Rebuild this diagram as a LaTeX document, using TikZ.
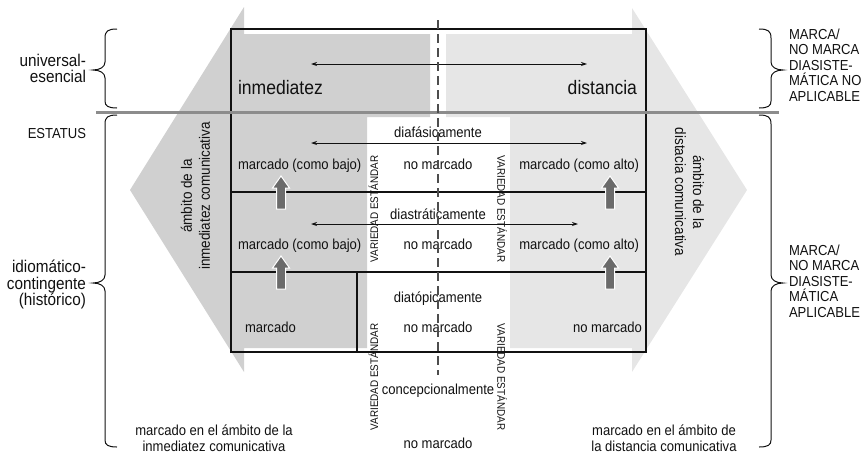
\documentclass[tikz,border=0pt]{standalone}
\usepackage{fontspec}
\setmainfont{Liberation Sans}[FakeStretch=0.9]
\usetikzlibrary{arrows.meta}
\definecolor{zoneA}{HTML}{D0D0D0}
\definecolor{zoneB}{HTML}{E6E6E6}
\definecolor{sepgray}{HTML}{8C8C8C}
\definecolor{dashgray}{HTML}{4D4D4D}
\definecolor{uparrow}{HTML}{6B6B6B}
\definecolor{txt}{HTML}{111111}
\begin{document}
\begin{tikzpicture}[x=1pt,y=-1pt,
  every node/.style={inner sep=0pt,outer sep=0pt,text=txt},
  big/.style={font=\fontsize{19.5}{22}\selectfont},
  cell/.style={font=\fontsize{14.5}{16}\selectfont},
  side/.style={font=\fontsize{17}{16.5}\selectfont, align=right},
  caps/.style={font=\fontsize{14.5}{15.5}\selectfont, align=left},
  amb/.style={font=\fontsize{15}{18}\selectfont, align=center},
  std/.style={font=\fontsize{11}{12}\selectfont},
  dbl/.style={{Stealth[length=6pt,width=4pt]}-{Stealth[length=6pt,width=4pt]}, line width=0.9pt, draw=txt},
  boxline/.style={line width=1.4pt, draw=txt},
  innerline/.style={line width=1.1pt, draw=txt},
  brace/.style={line width=1pt, draw=txt},
  blockup/.style={fill=uparrow, draw=white, line width=1pt}
]
\useasboundingbox (0,0) rectangle (866,455);

% zones
\fill[zoneA] (244,7) -- (130,190) -- (244,372) -- (244,348) -- (367,348) -- (367,117) -- (430,117) -- (430,34) -- (244,34) -- cycle;
\fill[zoneB] (632,8) -- (747,190) -- (632,372) -- (632,348) -- (510,348) -- (510,117) -- (446,117) -- (446,34) -- (632,34) -- cycle;

% box and inner lines
\draw[boxline] (231,29) rectangle (646,352);
\draw[innerline] (231,192) -- (646,192);
\draw[innerline] (231,272) -- (646,272);
\draw[innerline] (357,272) -- (357,352);

% separator
\draw[sepgray, line width=3pt] (96,112) -- (779,112);

% braces
\draw[brace] (117,29) .. controls (108,29) and (105,31) .. (105,38) -- (105,62) .. controls (105,67) and (100,70) .. (93,70) .. controls (100,70) and (105,73) .. (105,78) -- (105,101) .. controls (105,106) and (108,108) .. (117,108);
\draw[brace] (117,115) .. controls (108,115) and (105,117) .. (105,124) -- (105,275) .. controls (105,280) and (100,283) .. (93,283) .. controls (100,283) and (105,286) .. (105,291) -- (105,440) .. controls (105,445) and (108,447) .. (117,447);
\draw[brace] (759,29) .. controls (768,29) and (771,31) .. (771,38) -- (771,62) .. controls (771,67) and (776,70) .. (783,70) .. controls (776,70) and (771,73) .. (771,78) -- (771,101) .. controls (771,106) and (768,108) .. (759,108);
\draw[brace] (759,115) .. controls (768,115) and (771,117) .. (771,124) -- (771,275) .. controls (771,280) and (776,283) .. (783,283) .. controls (776,283) and (771,286) .. (771,291) -- (771,440) .. controls (771,445) and (768,447) .. (759,447);

% side texts
\node[side, anchor=east] (univ) at (86,68.5) {universal-\\esencial};
\node[font=\fontsize{14.5}{15}\selectfont, anchor=base east] (estatus) at (86,138) {ESTATUS};
\node[side, anchor=east] (idio) at (86,284.5) {idiomático-\\contingente\\(histórico)};
\node[caps, anchor=west] (marcaA) at (789,65) {MARCA/\\NO MARCA\\DIASISTE-\\MÁTICA NO\\APLICABLE};
\node[caps, anchor=west] (marcaB) at (789,281) {MARCA/\\NO MARCA\\DIASISTE-\\MÁTICA\\APLICABLE};

% top section
\node[big, anchor=base west] (inm) at (238,94) {inmediatez};
\node[big, anchor=base east] (dist) at (637,94) {distancia};
\coordinate (t1) at (311,64); \coordinate (t2) at (587,64);
\draw[dbl] (t1) -- (t2);

% row 1
\node[cell, anchor=base] (diaf) at (438,137) {diafásicamente};
\coordinate (f1) at (311,143); \coordinate (f2) at (587,143);
\draw[dbl] (f1) -- (f2);
\node[cell, anchor=base west] (r1a) at (238,169) {marcado (como bajo)};
\node[cell, anchor=base] (r1b) at (438,169) {no marcado};
\node[cell, anchor=base east] (r1c) at (639,169) {marcado (como alto)};

% row 2
\node[cell, anchor=base] (diast) at (438,219) {diastráticamente};
\coordinate (s1) at (311,224); \coordinate (s2) at (578,224);
\draw[dbl] (s1) -- (s2);
\node[cell, anchor=base west] (r2a) at (238,249) {marcado (como bajo)};
\node[cell, anchor=base] (r2b) at (438,249) {no marcado};
\node[cell, anchor=base east] (r2c) at (639,249) {marcado (como alto)};

% row 3
\node[cell, anchor=base] (diat) at (438,302) {diatópicamente};
\node[cell, anchor=base west] (r3a) at (245,332) {marcado};
\node[cell, anchor=base] (r3b) at (438,332) {no marcado};
\node[cell, anchor=base east] (r3c) at (642,332) {no marcado};

% bottom
\node[cell, anchor=base] (conc) at (438,394) {concepcionalmente};
\node[cell, anchor=base] (nmb) at (438,448) {no marcado};
\node[cell, align=center] (bl) at (214,438.5) {marcado en el ámbito de la\\inmediatez comunicativa};
\node[cell, align=center] (br) at (664,438.5) {marcado en el ámbito de\\la distancia comunicativa};

% rotated
\node[amb, rotate=90] (ambL) at (195.5,196) {ámbito de la\\inmediatez comunicativa};
\node[amb, rotate=-90] (ambR) at (689.5,192) {ámbito de la\\distacia comunicativa};
\node[std, rotate=90] (v1) at (373.5,209) {VARIEDAD ESTÁNDAR};
\node[std, rotate=-90] (v2) at (502,209) {VARIEDAD ESTÁNDAR};
\node[std, rotate=90] (v3) at (373.5,377) {VARIEDAD ESTÁNDAR};
\node[std, rotate=-90] (v4) at (502,377) {VARIEDAD ESTÁNDAR};

% dashed center line
\draw[dashgray, line width=1.5pt, dash pattern=on 9pt off 5pt] (438,20) -- (438,375);

% up arrows
\foreach \cx/\ty in {281/176, 281/256, 610/176, 610/256}{
  \draw[blockup] (\cx,\ty) -- (\cx+8.5,\ty+12) -- (\cx+4.5,\ty+12) -- (\cx+4.5,\ty+33) -- (\cx-4.5,\ty+33) -- (\cx-4.5,\ty+12) -- (\cx-8.5,\ty+12) -- cycle;
}
\end{tikzpicture}
\end{document}
